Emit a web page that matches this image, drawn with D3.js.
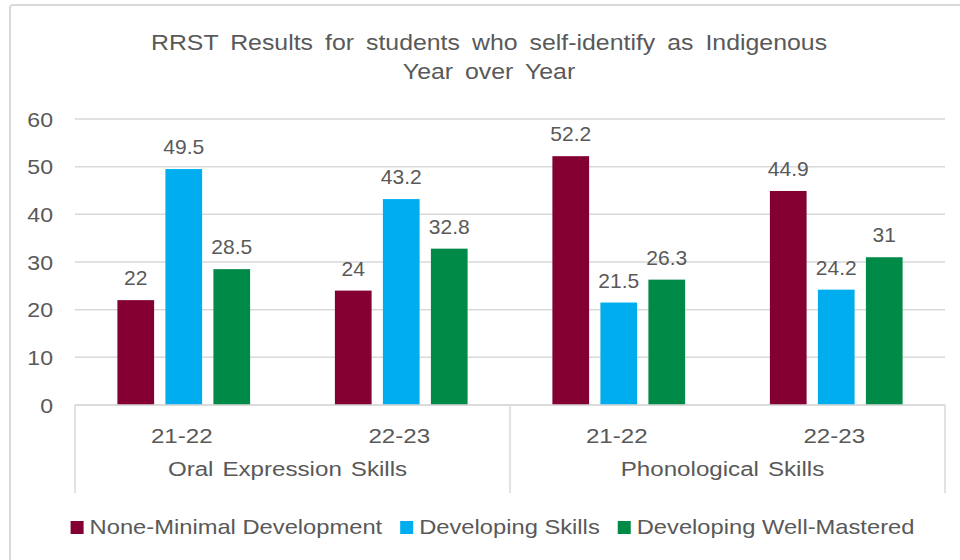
<!DOCTYPE html>
<html>
<head>
<meta charset="utf-8">
<script src="https://cdn.jsdelivr.net/npm/d3@7"></script>
<style>
  html, body { margin: 0; padding: 0; background: #fff; }
  svg { display: block; }
  text { font-family: "Liberation Sans", Arial, sans-serif; fill: #595959; }
</style>
</head>
<body>
<svg id="chart" width="960" height="560"></svg>
<script>
// Chart data
const titleLines = ["RRST Results for students who self-identify as Indigenous", "Year over Year"];
const skills = ["Oral Expression Skills", "Phonological Skills"];
const years = ["21-22", "22-23"];
const seriesNames = ["None-Minimal Development", "Developing Skills", "Developing Well-Mastered"];
const seriesColors = ["#840032", "#00AEEF", "#008A47"];
// values per series, in order: Oral 21-22, Oral 22-23, Phono 21-22, Phono 22-23
const noneMinimal = [22, 24, 52.2, 44.9];
const developing = [49.5, 43.2, 21.5, 24.2];
const wellMastered = [28.5, 32.8, 26.3, 31];
const yTicks = [0, 10, 20, 30, 40, 50, 60];

const series = [noneMinimal, developing, wellMastered];
const groups = [];
skills.forEach(s => years.forEach(y => groups.push({ skill: s, year: y, key: s + "|" + y })));

const svg = d3.select("#chart");
const W = 960, H = 560;
const m = { left: 75, right: 15, top: 119, bottom: 155 };
const plotR = W - m.right, plotB = H - m.bottom;
const gridColor = "#d9d9d9";

// text helper with optional horizontal widening and word spacing
function label(parent, x, y, str, size, anchor, sx, ws) {
  return parent.append("text")
    .attr("transform", `translate(${x},${y}) scale(${sx || 1},1)`)
    .attr("text-anchor", anchor || "middle")
    .style("font-size", size + "px")
    .style("word-spacing", (ws || 0) + "px")
    .text(str);
}

// outer frame
svg.append("rect")
  .attr("x", 10).attr("y", 5).attr("width", 980).attr("height", 600)
  .attr("rx", 3)
  .attr("fill", "none").attr("stroke", gridColor).attr("stroke-width", 2);

// title
titleLines.forEach((t, i) => label(svg, 489, 50 + i * 29, t, 22, "middle", 1.13, 4.5));

const x0 = d3.scaleBand().domain(groups.map(d => d.key)).range([m.left, plotR]);
const skillScale = d3.scaleBand().domain(skills).range([m.left, plotR]);
const y = d3.scaleLinear().domain([0, 60]).range([plotB, m.top]);

// gridlines
svg.append("g").selectAll("line").data(yTicks).join("line")
  .attr("x1", m.left).attr("x2", plotR)
  .attr("y1", d => y(d)).attr("y2", d => y(d))
  .attr("stroke", gridColor).attr("stroke-width", 1.5);

// y tick labels
const yg = svg.append("g");
yTicks.forEach(t => label(yg, 53, y(t) + 7.5, String(t), 21, "end", 1.1));

// bars
const barW = 36.7, barStep = 48;
const barsG = svg.append("g");
series.forEach((vals, si) => {
  barsG.append("g").selectAll("rect").data(vals).join("rect")
    .attr("x", (d, i) => x0(groups[i].key) + x0.bandwidth() / 2 + (si - 1) * barStep - barW / 2)
    .attr("width", barW)
    .attr("y", d => y(d))
    .attr("height", d => y(0) - y(d))
    .attr("fill", seriesColors[si]);
});

// value labels
const lblG = svg.append("g");
series.forEach((vals, si) => {
  vals.forEach((v, i) => {
    const cx = x0(groups[i].key) + x0.bandwidth() / 2 + (si - 1) * barStep;
    label(lblG, cx, y(v) - 15, String(v), 21, "middle", 1.0);
  });
});

// multi-level category axis
const axG = svg.append("g");
axG.append("line").attr("x1", m.left).attr("x2", plotR).attr("y1", plotB).attr("y2", plotB)
  .attr("stroke", gridColor).attr("stroke-width", 1.5);
const dividers = skills.map(s => skillScale(s)).concat([plotR]);
axG.selectAll("line.div").data(dividers).join("line").attr("class", "div")
  .attr("x1", d => d).attr("x2", d => d).attr("y1", plotB).attr("y2", plotB + 88)
  .attr("stroke", gridColor).attr("stroke-width", 1.5);
groups.forEach(g => label(axG, x0(g.key) + x0.bandwidth() / 2 - 2, plotB + 38, g.year, 21, "middle", 1.15));
skills.forEach(s => label(axG, skillScale(s) + skillScale.bandwidth() / 2 - 5, plotB + 71, s, 21, "middle", 1.15, 2));

// legend
const legG = svg.append("g");
const items = [];
let cursor = 0;
const legSX = 1.13, legGap = 18;
seriesNames.forEach((n, i) => {
  const sq = legG.append("rect").attr("y", 521).attr("width", 13).attr("height", 13).attr("fill", seriesColors[i]);
  const t = label(legG, 0, 534, n, 21, "start", legSX);
  const w = t.node().getComputedTextLength() * legSX;
  items.push({ sq, t, start: cursor, w });
  cursor += 13 + 6 + w + legGap;
});
const total = cursor - legGap;
const lx = 492.5 - total / 2;
items.forEach(it => {
  it.sq.attr("x", lx + it.start);
  it.t.attr("transform", `translate(${lx + it.start + 19},534) scale(${legSX},1)`);
});
</script>
</body>
</html>
